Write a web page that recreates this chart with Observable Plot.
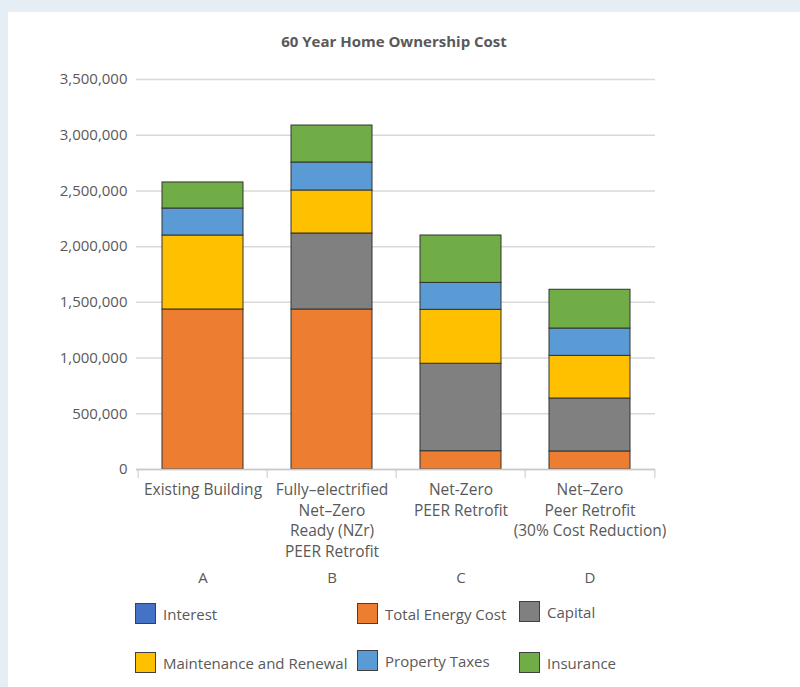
<!DOCTYPE html>
<html><head><meta charset="utf-8">
<script src="https://cdn.jsdelivr.net/npm/d3@7"></script>
<script src="https://cdn.jsdelivr.net/npm/@observablehq/plot@0.6"></script>
<style>
body{margin:0;background:#e6eef5;font-family:"Open Sans",sans-serif;}
#panel{position:absolute;left:8px;top:12px;width:792px;height:675px;background:#fff;}
#title{position:absolute;left:0;width:788px;top:31px;text-align:center;font-weight:bold;font-size:15px;color:#595959;}
#chart{position:absolute;left:0;top:0;}
.leg{position:absolute;display:flex;align-items:center;font-size:15px;color:#595959;white-space:nowrap;}
.sw{width:21px;height:21px;box-sizing:border-box;border:1px solid #404040;margin-right:7px;}
</style></head><body>
<div id="panel"></div>
<div id="title">60 Year Home Ownership Cost</div>
<div id="chart"></div>
<div id="legend"></div>
<script>
const categories = ["A", "B", "C", "D"];
const categoryNames = [
  "Existing Building",
  "Fully–electrified\nNet–Zero\nReady (NZr)\nPEER Retrofit",
  "Net-Zero\nPEER Retrofit",
  "Net–Zero\nPeer Retrofit\n(30% Cost Reduction)"
];
const series = ["Interest", "Total Energy Cost", "Capital", "Maintenance and Renewal", "Property Taxes", "Insurance"];
const seriesColors = ["#4472C4", "#ED7D31", "#808080", "#FFC000", "#5B9BD5", "#70AD47"];
const interest = [0, 0, 0, 0];
const energy = [1436000, 1436000, 164000, 162000];
const capital = [0, 682000, 785000, 475000];
const maintenance = [664000, 386000, 484000, 383000];
const taxes = [242000, 251000, 242000, 245000];
const insurance = [234000, 332000, 425000, 348000];
const yTicks = [0, 500000, 1000000, 1500000, 2000000, 2500000, 3000000, 3500000];

const valuesBySeries = [interest, energy, capital, maintenance, taxes, insurance];
const rows = [];
categories.forEach((c, i) => {
  series.forEach((s, j) => {
    const v = valuesBySeries[j][i];
    if (v > 0) rows.push({cat: c, series: s, value: v});
  });
});

const W = 800, H = 600, ML = 136, MR = 145, MT = 79, MB = 131;
const step = (W - ML - MR) / categories.length;
const nameOf = d => categoryNames[categories.indexOf(d)];

const chart = Plot.plot({
  width: W, height: H,
  marginLeft: ML, marginRight: MR, marginTop: MT, marginBottom: MB,
  style: {fontFamily: "'Open Sans', sans-serif", fontSize: "14px", color: "#595959", background: "transparent"},
  x: {domain: categories, paddingInner: 0.375, paddingOuter: 0.1875},
  y: {domain: [0, 3500000]},
  color: {domain: series, range: seriesColors},
  marks: [
    Plot.gridY(yTicks, {stroke: "#d9d9d9", strokeOpacity: 1, strokeWidth: 1.5}),
    Plot.barY(rows, {x: "cat", y: "value", fill: "series", stroke: "#333", strokeWidth: 1}),
    Plot.ruleY([0], {stroke: "#c8c8c8", strokeWidth: 1.5}),
    Plot.axisY({ticks: yTicks, tickFormat: d3.format(","), tickSize: 0, tickPadding: 9, fontSize: 15, label: null}),
    Plot.axisX({tickFormat: nameOf, tickSize: 0, tickPadding: 11, lineHeight: 1.33, fontSize: 15.5, label: null}),
    Plot.axisX({tickFormat: d => d, tickSize: 0, tickPadding: 103, fontSize: 15, label: null}),
    Plot.axisX({tickFormat: null, tickSize: 9, dx: -step / 2, stroke: "#c8c8c8", label: null}),
    Plot.axisX(["D"], {tickFormat: null, tickSize: 9, dx: step / 2, stroke: "#c8c8c8", label: null})
  ]
});
document.getElementById("chart").appendChild(chart);

const legendPos = [[135, 603], [357, 603], [519, 601], [135, 652], [357, 650], [519, 652]];
const legend = document.getElementById("legend");
series.forEach((s, i) => {
  const d = document.createElement("div");
  d.className = "leg";
  d.style.left = legendPos[i][0] + "px";
  d.style.top = legendPos[i][1] + "px";
  d.innerHTML = `<div class="sw" style="background:${seriesColors[i]}"></div><span>${s}</span>`;
  legend.appendChild(d);
});
</script>
</body></html>
